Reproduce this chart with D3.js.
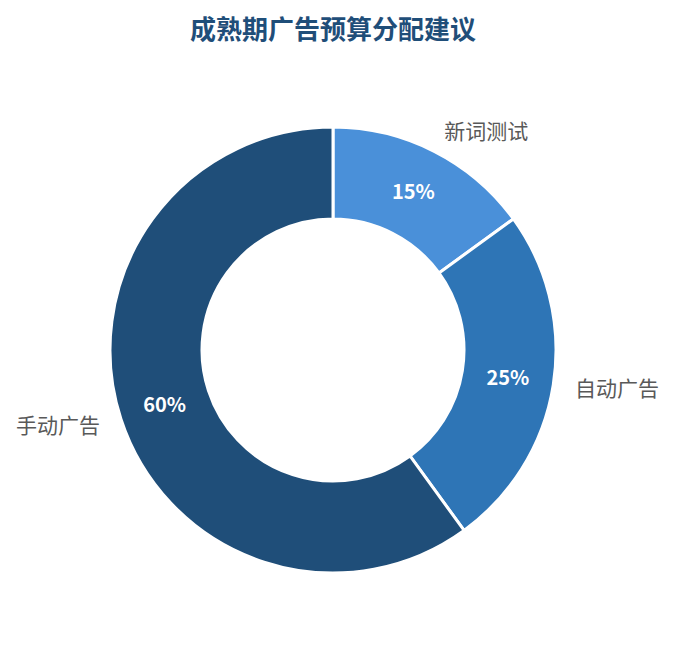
<!DOCTYPE html>
<html>
<head>
<meta charset="utf-8">
<script src="https://cdn.jsdelivr.net/npm/d3@7"></script>
<style>
  body { margin: 0; background: #fff; }
  svg { font-family: "Noto Sans CJK SC", "Noto Sans", sans-serif; }
</style>
</head>
<body>
<div class="chart"></div>
<script>
const categories = ['新词测试', '自动广告', '手动广告'];
const values = [15, 25, 60];
const colors = ['#4a90d9', '#2e75b6', '#1f4e79'];

const width = 675;
const height = 645;
const cx = 333, cy = 350;
const outerR = 223, innerR = 131;

const svg = d3.select('.chart')
    .append('svg')
    .attr('width', width)
    .attr('height', height);

svg.append('text')
    .text('成熟期广告预算分配建议')
    .attr('x', cx)
    .attr('y', 39)
    .attr('text-anchor', 'middle')
    .attr('font-size', 26)
    .attr('font-weight', 'bold')
    .attr('fill', '#1f4e79');

const data = categories.map((c, i) => ({name: c, value: values[i], color: colors[i]}));

const pie = d3.pie().value(d => d.value).sort(null);
const arcs = pie(data);

const arc = d3.arc().innerRadius(innerR).outerRadius(outerR);
const midArc = d3.arc().innerRadius(177).outerRadius(177);
const labelArc = d3.arc().innerRadius(245).outerRadius(245);

const g = svg.append('g').attr('transform', `translate(${cx},${cy})`);

g.selectAll('path')
    .data(arcs)
    .enter()
    .append('path')
    .attr('d', arc)
    .attr('fill', d => d.data.color)
    .attr('stroke', '#fff')
    .attr('stroke-width', 3);

// percentages inside
g.selectAll('.pct')
    .data(arcs)
    .enter()
    .append('text')
    .attr('class', 'pct')
    .text(d => d.data.value + '%')
    .attr('x', d => midArc.centroid(d)[0])
    .attr('y', d => midArc.centroid(d)[1])
    .attr('dy', '0.35em')
    .attr('text-anchor', 'middle')
    .attr('font-size', 20)
    .attr('font-weight', 'bold')
    .attr('fill', '#fff');

// outside labels
g.selectAll('.lbl')
    .data(arcs)
    .enter()
    .append('text')
    .attr('class', 'lbl')
    .text(d => d.data.name)
    .attr('x', d => labelArc.centroid(d)[0])
    .attr('y', d => labelArc.centroid(d)[1])
    .attr('dy', '0.35em')
    .attr('text-anchor', d => (d.startAngle + d.endAngle) / 2 < Math.PI ? 'start' : 'end')
    .attr('font-size', 21)
    .attr('fill', '#595959');
</script>
</body>
</html>
